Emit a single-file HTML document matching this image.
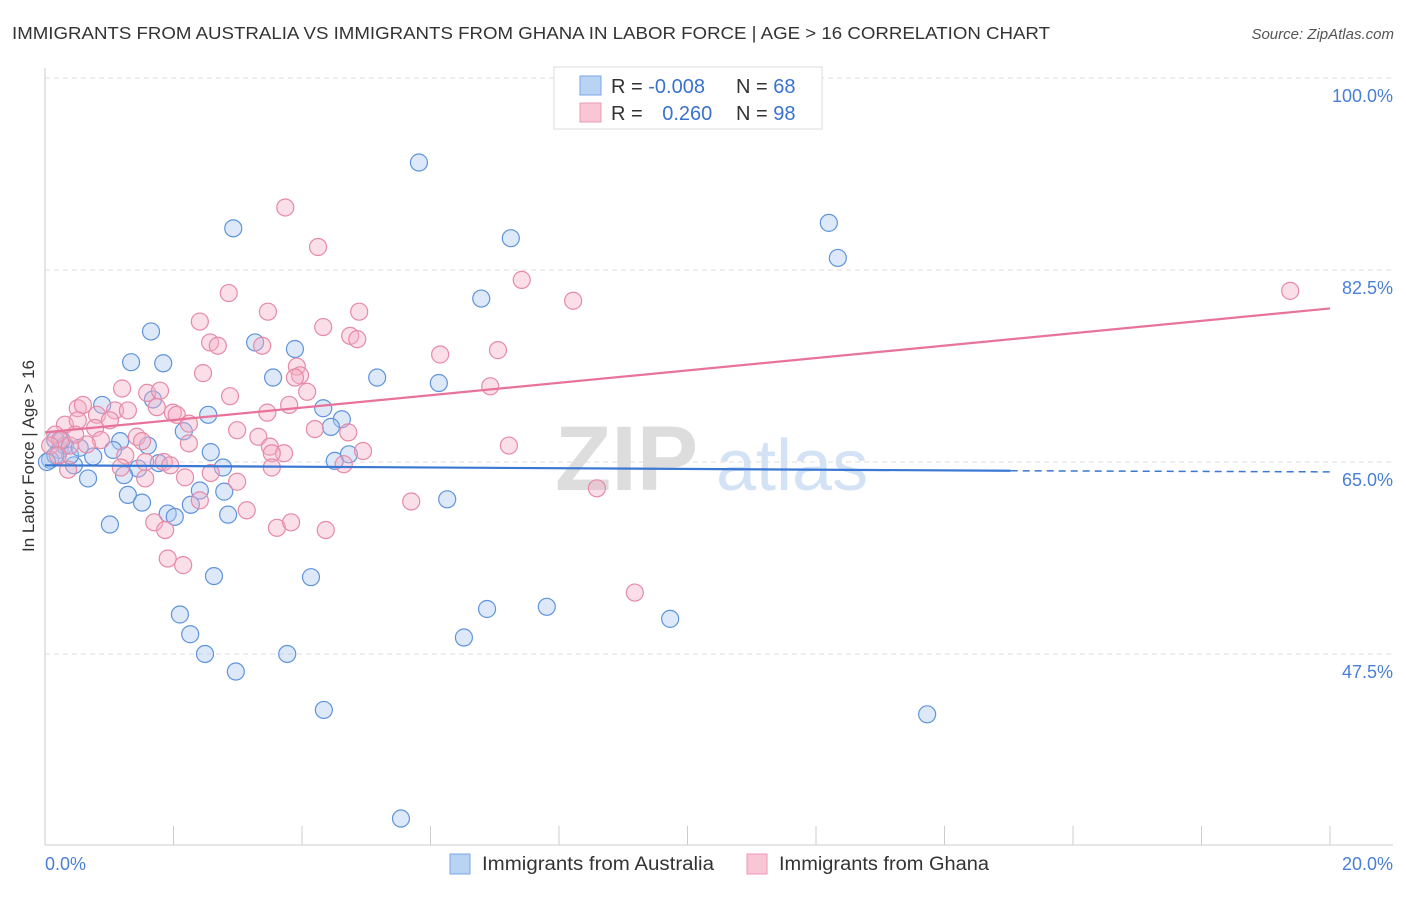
<!DOCTYPE html>
<html><head><meta charset="utf-8"><style>
body{margin:0;background:#fff;font-family:"Liberation Sans",sans-serif;}
svg text{font-family:"Liberation Sans",sans-serif;}
</style></head><body>
<svg id="chart" width="1406" height="892" viewBox="0 0 1406 892">
<text x="12" y="39" font-size="17.5" fill="#333" textLength="1038" lengthAdjust="spacingAndGlyphs">IMMIGRANTS FROM AUSTRALIA VS IMMIGRANTS FROM GHANA IN LABOR FORCE | AGE &gt; 16 CORRELATION CHART</text>
<text x="1394" y="39" font-size="15" fill="#555" font-style="italic" text-anchor="end">Source: ZipAtlas.com</text>
<g><text x="555" y="490" font-size="92" fill="#ddd" font-family="Liberation Serif" font-weight="bold">ZIP</text><text x="716" y="490" font-size="72" fill="#d4e2f5">atlas</text></g>
<g id="grid"></g>
<g id="axes"></g>
<g id="pts"></g>
<g id="trend"></g>
<text transform="translate(34,456) rotate(-90)" font-size="17" fill="#333" text-anchor="middle">In Labor Force | Age &gt; 16</text>
<text x="45" y="870" font-size="18" fill="#4a7fd6">0.0%</text>
<text x="1393" y="870" font-size="18" fill="#4a7fd6" text-anchor="end">20.0%</text>
<g>
<rect x="554" y="67" width="268" height="62" fill="#fff" stroke="#ddd"/>
<rect x="580" y="76" width="21" height="19" fill="#b9d3f5" stroke="#7aa6e6"/>
<rect x="580" y="103" width="21" height="19" fill="#f9c6d5" stroke="#eb9ab3"/>
<text x="611" y="93" font-size="20" fill="#333">R = <tspan fill="#3a72d0">-0.008</tspan></text>
<text x="736" y="93" font-size="20" fill="#333">N = <tspan fill="#3a72d0">68</tspan></text>
<text x="611" y="120" font-size="20" fill="#333">R = <tspan fill="#3a72d0" dx="14">0.260</tspan></text>
<text x="736" y="120" font-size="20" fill="#333">N = <tspan fill="#3a72d0">98</tspan></text>
</g>
<g>
<rect x="450" y="854" width="20" height="20" fill="#b9d3f5" stroke="#7aa6e6"/>
<text x="482" y="870" font-size="19" fill="#333" textLength="232" lengthAdjust="spacingAndGlyphs">Immigrants from Australia</text>
<rect x="747" y="854" width="20" height="20" fill="#f9c6d5" stroke="#eb9ab3"/>
<text x="779" y="870" font-size="19" fill="#333" textLength="210" lengthAdjust="spacingAndGlyphs">Immigrants from Ghana</text>
</g>
</svg>
<script>
const yTicks=[100,82.5,65,47.5];
const yTickLabels=["100.0%","82.5%","65.0%","47.5%"];
const xTicks=[0,2,4,6,8,10,12,14,16,18,20];
const ausX=[5.82,2.93,7.25,12.20,12.34,6.79,1.65,3.27,3.89,1.34,1.84,3.55,5.17,6.13,1.68,0.89,2.54,4.33,4.62,4.45,2.16,1.17,1.60,1.06,0.75,2.58,4.73,4.51,1.77,2.77,1.45,0.45,0.67,1.23,2.41,1.29,2.79,1.51,2.27,6.26,1.91,2.02,2.85,1.01,2.63,4.14,2.10,6.88,7.81,2.26,6.52,9.73,2.49,3.77,2.97,4.34,13.73,5.54,0.16,0.23,0.08,0.31,0.39,0.16,0.26,0.54,0.03];
const ausY=[92.3,86.3,85.4,86.8,83.6,79.9,76.9,75.9,75.3,74.1,74.0,72.7,72.7,72.2,70.7,70.2,69.3,69.9,68.9,68.2,67.8,66.9,66.5,66.1,65.5,65.9,65.7,65.1,64.9,64.5,64.4,64.7,63.5,63.8,62.4,62.0,62.3,61.3,61.1,61.6,60.3,60.0,60.2,59.3,54.6,54.5,51.1,51.6,51.8,49.3,49.0,50.7,47.5,47.5,45.9,42.4,42.0,32.5,67.0,66.1,65.2,66.5,65.6,65.6,67.0,66.3,65.0];
const ghaX=[3.74,4.25,7.42,8.22,19.38,2.86,3.47,2.41,4.33,4.89,4.75,4.86,2.57,2.69,3.38,6.15,7.05,2.46,1.20,1.59,1.79,3.92,3.97,3.89,6.93,2.88,4.08,0.51,0.59,0.81,1.09,1.29,1.99,2.05,3.46,3.80,1.74,0.78,0.31,0.51,1.01,2.24,2.99,4.20,4.72,3.32,1.43,1.51,0.87,0.65,2.24,3.50,3.72,3.53,4.95,7.22,1.25,1.56,1.85,1.95,1.18,2.18,2.99,3.53,4.65,0.36,2.58,1.56,8.59,5.70,2.41,3.14,1.70,1.87,3.61,3.83,4.37,1.91,2.15,9.18,0.16,0.23,0.08,0.39,0.20,0.47];
const ghaY=[88.2,84.6,81.6,79.7,80.6,80.4,78.7,77.8,77.3,78.7,76.5,76.2,75.9,75.6,75.6,74.8,75.2,73.1,71.7,71.3,71.5,73.7,72.9,72.7,71.9,71.0,71.4,69.9,70.2,69.3,69.7,69.7,69.5,69.3,69.5,70.2,70.0,68.1,68.4,68.8,68.8,68.5,67.9,68.0,67.7,67.3,67.3,66.9,67.0,66.6,66.7,66.4,65.8,65.8,66.0,66.5,65.6,65.0,65.0,64.7,64.5,63.6,63.2,64.5,64.8,64.3,64.0,63.5,62.6,61.4,61.5,60.6,59.5,58.8,59.0,59.5,58.8,56.2,55.6,53.1,67.5,67.0,66.5,66.5,65.6,67.5];
const ausTrend=[64.7,64.2,64.1];
const ausTrendX=[0,15.03,20];
const ghaTrend=[67.7,79.0];
const ghaTrendX=[0,20];
const NS="http://www.w3.org/2000/svg";
function sx(v){return 45+v*64.25;}
function sy(v){return 462-(v-65)*10.97;}
function mk(tag,attrs,parent){const e=document.createElementNS(NS,tag);for(const k in attrs)e.setAttribute(k,attrs[k]);parent.appendChild(e);return e;}
const grid=document.getElementById('grid'),axes=document.getElementById('axes'),pts=document.getElementById('pts'),trend=document.getElementById('trend');
yTicks.forEach((t,i)=>{
 const l=mk('line',{x1:45,x2:1393,y1:sy(t),y2:sy(t),stroke:'#ddd','stroke-dasharray':'5,4'},grid);
 
 
 const tx=mk('text',{x:1393,y:sy(t)+24,'font-size':18,fill:'#4a7fd6','text-anchor':'end'},grid);
 tx.textContent=yTickLabels[i];
 
 
});
mk('line',{x1:45,x2:45,y1:68,y2:845,stroke:'#ccc'},axes);
mk('line',{x1:45,x2:1393,y1:845,y2:845,stroke:'#ccc'},axes);
xTicks.forEach(t=>{
 const l=mk('line',{x1:sx(t),x2:sx(t),y1:826,y2:845,stroke:'#ccc'},axes);
 
 
});
function drawPts(X,Y,fill,stroke,name){
 X.forEach((x,i)=>{
  const c=mk('circle',{cx:sx(x),cy:sy(Y[i]),r:8.5,fill:fill,'fill-opacity':0.4,stroke:stroke,'stroke-width':1.2},pts);
  
  
 });
}
drawPts(ausX,ausY,'#a9c8f0','#5f94dc','point-australia');
drawPts(ghaX,ghaY,'#f5b0c6','#e68aa7','point-ghana');
let a=mk('line',{x1:sx(ausTrendX[0]),y1:sy(ausTrend[0]),x2:sx(ausTrendX[1]),y2:sy(ausTrend[1]),stroke:'#3a78d4','stroke-width':2.2},trend);


let b=mk('line',{x1:sx(ausTrendX[1]),y1:sy(ausTrend[1]),x2:sx(ausTrendX[2]),y2:sy(ausTrend[2]),stroke:'#3a78d4','stroke-width':1.5,'stroke-dasharray':'7,5'},trend);


let g=mk('line',{x1:sx(ghaTrendX[0]),y1:sy(ghaTrend[0]),x2:sx(ghaTrendX[1]),y2:sy(ghaTrend[1]),stroke:'#e8739a','stroke-width':2.2},trend);


</script>
</body></html>
